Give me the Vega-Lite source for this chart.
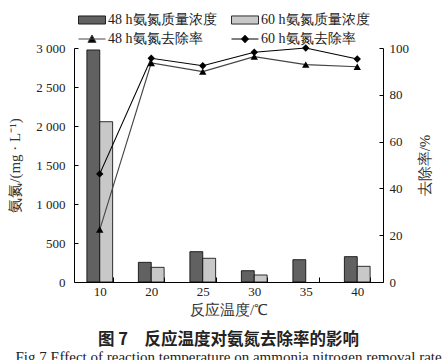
{
  "$schema": "https://vega.github.io/schema/vega-lite/v6.json",
  "width": 309,
  "height": 234,
  "autosize": {"type": "none"},
  "padding": {"left": 74, "top": 48, "right": 62, "bottom": 78},
  "background": "white",
  "config": {
    "view": {"stroke": null},
    "font": "Liberation Serif",
    "axis": {"labelFont": "Liberation Serif", "titleFont": "Liberation Serif", "labelColor": "#222", "titleColor": "#333", "domainColor": "#000", "tickColor": "#000", "grid": false, "labelFontSize": 13, "titleFontSize": 15, "titleFontWeight": "normal"},
    "legend": {"labelFont": "Liberation Serif", "labelFontSize": 14, "labelColor": "#222", "padding": 0}
  },
  "datasets": {
    "conc": [
      {"temp": "10", "series": "48 h氨氮质量浓度", "conc": 2975},
      {"temp": "10", "series": "60 h氨氮质量浓度", "conc": 2055},
      {"temp": "20", "series": "48 h氨氮质量浓度", "conc": 252},
      {"temp": "20", "series": "60 h氨氮质量浓度", "conc": 188},
      {"temp": "25", "series": "48 h氨氮质量浓度", "conc": 389},
      {"temp": "25", "series": "60 h氨氮质量浓度", "conc": 304},
      {"temp": "30", "series": "48 h氨氮质量浓度", "conc": 145},
      {"temp": "30", "series": "60 h氨氮质量浓度", "conc": 90},
      {"temp": "35", "series": "48 h氨氮质量浓度", "conc": 286},
      {"temp": "40", "series": "48 h氨氮质量浓度", "conc": 325},
      {"temp": "40", "series": "60 h氨氮质量浓度", "conc": 201}
    ],
    "rate": [
      {"temp": "10", "lseries": "48 h氨氮去除率", "rate": 22.4},
      {"temp": "20", "lseries": "48 h氨氮去除率", "rate": 93.6},
      {"temp": "25", "lseries": "48 h氨氮去除率", "rate": 89.9},
      {"temp": "30", "lseries": "48 h氨氮去除率", "rate": 96.3},
      {"temp": "35", "lseries": "48 h氨氮去除率", "rate": 92.9},
      {"temp": "40", "lseries": "48 h氨氮去除率", "rate": 92.0},
      {"temp": "10", "lseries": "60 h氨氮去除率", "rate": 46.2},
      {"temp": "20", "lseries": "60 h氨氮去除率", "rate": 95.6},
      {"temp": "25", "lseries": "60 h氨氮去除率", "rate": 92.4},
      {"temp": "30", "lseries": "60 h氨氮去除率", "rate": 98.2},
      {"temp": "35", "lseries": "60 h氨氮去除率", "rate": 100},
      {"temp": "40", "lseries": "60 h氨氮去除率", "rate": 95.3}
    ]
  },
  "title": {
    "text": "图 7　反应温度对氨氮去除率的影响",
    "subtitle": "Fig.7    Effect of reaction temperature on ammonia nitrogen removal rate",
    "orient": "bottom",
    "anchor": "middle",
    "font": "Noto Sans CJK SC",
    "fontSize": 16.5,
    "fontWeight": "bold",
    "color": "#222",
    "offset": 15,
    "subtitleFont": "Liberation Serif",
    "subtitleFontSize": 15,
    "subtitleColor": "#222",
    "subtitlePadding": 1
  },
  "layer": [
    {
      "data": {"name": "conc"},
      "mark": {"type": "bar", "stroke": "#000", "strokeWidth": 0.8},
      "encoding": {
        "x": {
          "field": "temp", "type": "ordinal", "sort": null,
          "scale": {"paddingInner": 0.5, "paddingOuter": 0.25},
          "axis": {"title": "反应温度/℃", "labelAngle": 0, "tickBand": "extent", "tickSize": -5, "labelPadding": 8, "titlePadding": 4, "domainColor": "#000", "labelFont": "Liberation Serif", "titleFont": "Liberation Serif"}
        },
        "xOffset": {"field": "series", "type": "nominal", "sort": null, "scale": {"domain": ["48 h氨氮质量浓度", "60 h氨氮质量浓度"]}},
        "y": {
          "field": "conc", "type": "quantitative",
          "scale": {"domain": [0, 3000], "nice": false},
          "axis": {"title": "氨氮/(mg · L⁻¹)", "values": [0, 500, 1000, 1500, 2000, 2500, 3000], "tickSize": -4, "labelPadding": 13, "titlePadding": 13, "titleAngle": -90, "labelFont": "Liberation Serif", "titleFont": "Liberation Serif", "labelExpr": "replace(format(datum.value, ','), ',', ' ')"}
        },
        "fill": {
          "field": "series", "type": "nominal", "sort": null,
          "scale": {"domain": ["48 h氨氮质量浓度", "60 h氨氮质量浓度"], "range": ["#616161", "#c8c8c8"]},
          "legend": {"orient": "none", "legendX": 4, "legendY": -42, "direction": "horizontal", "title": null, "labelFont": "Liberation Serif", "symbolType": "M-1,-0.3H1V0.3H-1Z", "symbolSize": 729, "symbolStrokeColor": "#000", "symbolStrokeWidth": 0.8, "labelOffset": 2, "columnPadding": 12}
        }
      }
    },
    {
      "data": {"name": "rate"},
      "layer": [
        {
          "mark": {"type": "line", "strokeWidth": 1.1},
          "encoding": {
            "x": {"field": "temp", "type": "ordinal", "sort": null},
            "y": {
              "field": "rate", "type": "quantitative",
              "scale": {"domain": [0, 100], "nice": false},
              "axis": {"orient": "right", "title": "去除率/%", "values": [0, 20, 40, 60, 80, 100], "tickSize": -4, "labelPadding": 10, "titlePadding": 24, "titleAngle": -90, "labelFont": "Liberation Serif", "titleFont": "Liberation Serif"}
            },
            "stroke": {
              "field": "lseries", "type": "nominal", "sort": null,
              "scale": {"domain": ["48 h氨氮去除率", "60 h氨氮去除率"], "range": ["#444", "#000"]},
              "legend": {
                "orient": "none", "legendX": 4, "legendY": -23, "direction": "horizontal", "title": null, "labelFont": "Liberation Serif",
                "symbolType": "M-1,0H1", "symbolSize": 729, "symbolStrokeWidth": 1, "labelOffset": 2, "columnPadding": 26,
                "encode": {"symbols": {"update": {
                  "shape": {"signal": "datum.value === '48 h氨氮去除率' ? 'M-1,0H1M-0.3,0.25L0,-0.3L0.3,0.25Z' : 'M-1,0H1M-0.26,0L0,-0.28L0.26,0L0,0.28Z'"},
                  "fill": {"value": "#000"},
                  "stroke": {"value": "#000"}
                }}}
              }
            }
          }
        },
        {
          "mark": {"type": "point", "filled": true, "opacity": 1, "color": "#000"},
          "encoding": {
            "x": {"field": "temp", "type": "ordinal", "sort": null},
            "y": {"field": "rate", "type": "quantitative"},
            "shape": {
              "field": "lseries", "type": "nominal", "sort": null,
              "scale": {"range": ["triangle-up", "diamond"]},
              "legend": null
            },
            "size": {"value": 55}
          }
        }
      ]
    }
  ],
  "resolve": {"scale": {"y": "independent"}}
}
